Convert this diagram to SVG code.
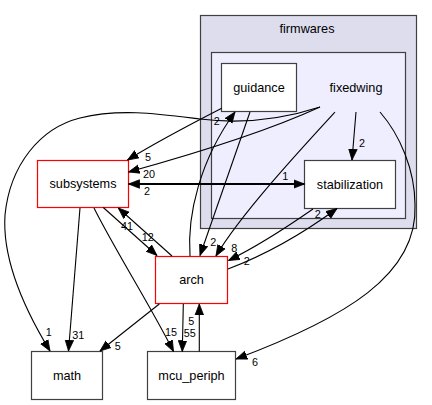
<svg xmlns="http://www.w3.org/2000/svg" width="432" height="405" viewBox="0 0 432 405">
<style>
text{font-family:"Liberation Sans",Helvetica,Arial,sans-serif;fill:#000}
.n{font-size:12.7px;text-anchor:middle}
.l{font-size:10.8px;text-anchor:middle}
.box{fill:#fff;stroke:#404040;stroke-width:1.2}
.red{fill:#fff;stroke:#ff0000;stroke-width:1.2}
.e{fill:none;stroke:#000;stroke-width:1.1;marker-end:url(#ah)}
</style>
<defs>
<marker id="ah" markerUnits="userSpaceOnUse" markerWidth="12" markerHeight="10" refX="11" refY="4.75" orient="auto-start-reverse" viewBox="0 0 12 9.5">
<path d="M0,0.5 L11,4.75 L0,9 z" fill="#000" stroke="#000" stroke-width="0.8"/>
</marker>
</defs>
<g id="cluster_firmwares">
<rect x="200.5" y="15.5" width="216" height="213" fill="#ddddee" stroke="#404040" stroke-width="1.2"/>
<text class="n" x="307" y="33">firmwares</text>
</g>
<g id="cluster_fixedwing">
<rect x="211.5" y="52.5" width="194" height="166" fill="#eeeeff" stroke="#404040" stroke-width="1.2"/>
<text class="n" x="356" y="92">fixedwing</text>
</g>
<g id="node_guidance">
<rect class="box" x="221.5" y="63.5" width="75" height="48"/>
<text class="n" x="259" y="91.7">guidance</text>
</g>
<g id="node_stabilization">
<rect class="box" x="304.5" y="160.5" width="91" height="48"/>
<text class="n" x="350" y="188.7">stabilization</text>
</g>
<g id="node_subsystems">
<rect class="red" x="37.5" y="160.5" width="91" height="47"/>
<text class="n" x="83" y="188">subsystems</text>
</g>
<g id="node_arch">
<rect class="red" x="155.5" y="256.5" width="72" height="47"/>
<text class="n" x="191.5" y="284.2">arch</text>
</g>
<g id="node_math">
<rect class="box" x="31.5" y="351.5" width="71" height="48"/>
<text class="n" x="67" y="379.7">math</text>
</g>
<g id="node_mcu_periph">
<rect class="box" x="147.5" y="351.5" width="88" height="48"/>
<text class="n" x="191.5" y="379.7">mcu_periph</text>
</g>
<g id="connectors">
<path class="e" d="M356,112 L352,160"/>
<text class="l" x="362" y="146.5">2</text>
<path class="e" d="M221.7,108.3 C195,122 160,140 127.5,160"/>
<text class="l" x="148" y="160.5">5</text>
<path class="e" d="M320,107 C270,130 190,155 128.5,172"/>
<text class="l" x="149" y="178.3">20</text>
<path class="e" d="M128.5,184 L304.5,184" style="stroke-width:2;marker-start:url(#ah)"/>
<text class="l" x="285.3" y="179.6">1</text>
<text class="l" x="147" y="194.6">2</text>
<path class="e" d="M190,256 C187,215 200,160 235,112"/>
<text class="l" x="216.7" y="124.6">2</text>
<path class="e" d="M250,112 L200,255.5"/>
<text class="l" x="213.3" y="245.5">2</text>
<path class="e" d="M335,112 C300,150 240,215 216,256"/>
<text class="l" x="234.2" y="252">8</text>
<path class="e" d="M313,209 C290,225 260,245 228.5,260.5"/>
<text class="l" x="246.7" y="264.6">2</text>
<path class="e" d="M228,269 C265,255 305,232 337,208.5"/>
<text class="l" x="317.7" y="218">2</text>
<path class="e" d="M320,107 C280,120 240,124 200,119 C160,114 120,108 80,118 C40,128 10,165 5,215 C2,260 25,310 50,351"/>
<text class="l" x="48.8" y="335.8">1</text>
<path class="e" d="M80,208 L68.5,351"/>
<text class="l" x="78.3" y="338.5">31</text>
<path class="e" d="M94,208 C115,250 150,305 173.5,351.5"/>
<text class="l" x="171" y="336">15</text>
<path class="e" d="M103.3,207.5 L157,255.5"/>
<text class="l" x="147.8" y="241.3">12</text>
<path class="e" d="M172,256 L118.3,208"/>
<text class="l" x="127" y="229.6">41</text>
<path class="e" d="M159.3,304 L100,351"/>
<text class="l" x="117.8" y="350">5</text>
<path class="e" d="M183.3,304 L182.3,351.5"/>
<text class="l" x="189.7" y="336.8">55</text>
<path class="e" d="M199.3,351.5 L199.3,304"/>
<text class="l" x="191.2" y="325.2">5</text>
<path class="e" d="M380,112 C400,135 415,170 415,205 C418,275 345,318 236,359"/>
<text class="l" x="255" y="365.5">6</text>
</g>
</svg>
